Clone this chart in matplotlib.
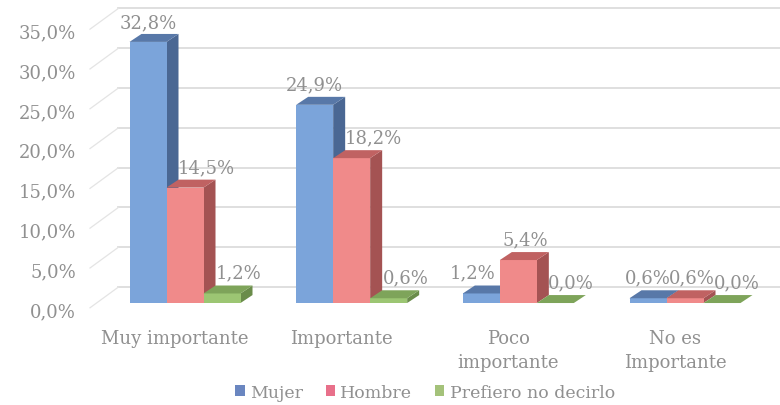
import matplotlib
matplotlib.use("Agg")
import matplotlib.pyplot as plt
from matplotlib.patches import Polygon, Rectangle

categories = ["Muy importante", "Importante", "Poco\nimportante", "No es\nImportante"]
series_names = ["Mujer", "Hombre", "Prefiero no decirlo"]
mujer = [32.8, 24.9, 1.2, 0.6]
hombre = [14.5, 18.2, 5.4, 0.6]
prefiero = [1.2, 0.6, 0.0, 0.0]
yticks = [0, 5, 10, 15, 20, 25, 30, 35]

series = [mujer, hombre, prefiero]
front_cols = ["#7ba4da", "#f08a8a", "#9cc673"]
top_cols = ["#5878a8", "#c06262", "#7ea45a"]
side_cols = ["#4a6793", "#a45353", "#6a8c4a"]
legend_cols = ["#6a86c0", "#e8708a", "#a4c27a"]
text_col = "#909090"

# label horizontal nudges (x units) per series/category
nudges = [[0.0, 0.0, -0.05, 0.0],
          [0.13, 0.13, 0.04, 0.04],
          [0.10, 0.10, 0.09, 0.09]]

plt.rcParams["font.family"] = ["DejaVu Serif"]

fig = plt.figure(figsize=(7.8, 4.06), dpi=100)
ax = fig.add_axes([0, 0, 1, 1])
ax.set_xlim(-1.11, 3.57)
ax.set_ylim(-12.81, 38.19)
ax.axis("off")

w = 0.222
dx, dy = 0.072, 1.0
wdy = 2.0
x_wall = -0.40
x_front = -0.57

# back wall gridlines and diagonal connectors
for t in yticks:
    ax.plot([x_wall, 3.57], [t + wdy, t + wdy], color="#dcdcdc", lw=1.3, zorder=1)
    ax.plot([x_front, x_wall], [t - 0.6, t + wdy], color="#e4e4e4", lw=0.9, zorder=1)
    ax.text(-0.655, t - 1.0, f"{t:.1f}%".replace(".", ","), ha="right", va="center",
            fontsize=13, color=text_col)

for ci in range(len(categories)):
    x_left = ci - 1.5 * w
    for si, vals in enumerate(series):
        h = vals[ci]
        x0 = x_left + si * w
        z = 3 + ci
        ax.add_patch(Polygon([(x0 + w, 0), (x0 + w + dx, dy), (x0 + w + dx, h + dy), (x0 + w, h)],
                             closed=True, facecolor=side_cols[si], edgecolor="none", zorder=z))
        ax.add_patch(Rectangle((x0, 0), w, h, facecolor=front_cols[si], edgecolor="none", zorder=z))
        ax.add_patch(Polygon([(x0, h), (x0 + w, h), (x0 + w + dx, h + dy), (x0 + dx, h + dy)],
                             closed=True, facecolor=top_cols[si], edgecolor="none", zorder=z))
    for si, vals in enumerate(series):
        h = vals[ci]
        x0 = x_left + si * w
        ax.text(x0 + w / 2 + nudges[si][ci], min(h + 2.6, 35.3), f"{h:.1f}%".replace(".", ","),
                ha="center", va="center", fontsize=13, color=text_col, zorder=20)
    ax.text(ci - 0.06, -3.3, categories[ci], ha="center", va="top", fontsize=13,
            color=text_col, linespacing=1.4)

# legend
handles = [Rectangle((0, 0), 1, 1, facecolor=c, edgecolor="none") for c in legend_cols]
leg = fig.legend(handles, series_names, loc="center", bbox_to_anchor=(0.545, 0.032), ncol=3,
                 frameon=False, fontsize=12.5, handlelength=0.55, handleheight=0.55,
                 handletextpad=0.3, columnspacing=1.3, labelcolor=text_col)

fig.savefig("out.png", dpi=100, facecolor="white")
